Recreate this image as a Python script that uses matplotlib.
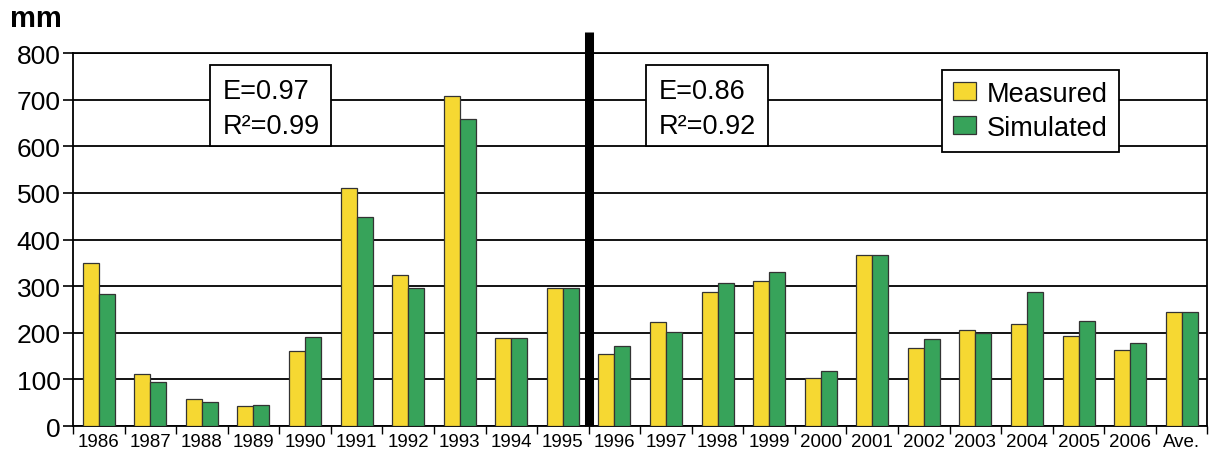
import numpy as np
import matplotlib.pyplot as plt
from matplotlib.patches import Rectangle

plt.rcParams['font.family'] = ['Liberation Sans', 'DejaVu Sans']

# data
years = ['1986', '1987', '1988', '1989', '1990', '1991', '1992', '1993', '1994', '1995',
         '1996', '1997', '1998', '1999', '2000', '2001', '2002', '2003', '2004', '2005',
         '2006', 'Ave.']
measured = [349, 111, 59, 42, 161, 511, 323, 707, 189, 297,
            154, 223, 288, 311, 102, 366, 167, 206, 219, 193, 164, 245]
simulated = [284, 95, 52, 46, 190, 449, 295, 659, 189, 297,
             172, 202, 306, 330, 118, 366, 186, 200, 288, 226, 177, 245]
stats_left = ['E=0.97', 'R²=0.99']
stats_right = ['E=0.86', 'R²=0.92']

yellow = '#F6D832'
green = '#37A35A'

fig = plt.figure(figsize=(12.1, 4.6), dpi=100)
ax = fig.add_axes([0.0603, 0.0717, 0.9376, 0.8109])

x = np.arange(len(years))
w = 0.31
ax.bar(x - w / 2, measured, w, color=yellow, edgecolor='#333333', linewidth=0.9,
       label='Measured', zorder=3)
ax.bar(x + w / 2, simulated, w, color=green, edgecolor='#333333', linewidth=0.9,
       label='Simulated', zorder=3)

ax.set_xlim(-0.5, len(years) - 0.5)
ax.set_ylim(0, 800)
ax.set_yticks(np.arange(0, 801, 100))
ax.tick_params(axis='y', labelsize=19, length=7, width=1.2, pad=2)
ax.grid(axis='y', color='black', linewidth=1.3, zorder=1)
ax.set_axisbelow(True)

# year labels centred, ticks on the boundaries
ax.set_xticks(x)
ax.set_xticklabels(years, fontsize=13.5)
ax.tick_params(axis='x', length=0, pad=5)
ax.set_xticks(np.arange(-0.5, len(years)), minor=True)
ax.tick_params(axis='x', which='minor', length=6, width=1, direction='out')

for s in ax.spines.values():
    s.set_linewidth(1.3)

# split between calibration and validation
ax.plot([9.5, 9.5], [0, 845], color='black', linewidth=6.5, clip_on=False,
        solid_capstyle='butt', zorder=4)

# stats boxes
for x0, x1, lines in [(2.155, 4.5, stats_left), (10.62, 12.98, stats_right)]:
    ax.add_patch(Rectangle((x0, 601), x1 - x0, 174, facecolor='white',
                           edgecolor='black', linewidth=1.3, zorder=5))
    ax.text(x0 + 0.24, 718, lines[0], fontsize=19.5, va='center', zorder=6)
    ax.text(x0 + 0.24, 643, lines[1], fontsize=19.5, va='center', zorder=6)

leg = ax.legend(loc='upper left', bbox_to_anchor=(0.766, 0.955), fontsize=19.5,
                frameon=True, fancybox=False, edgecolor='black', framealpha=1,
                handlelength=0.85, handleheight=0.65, handletextpad=0.4,
                labelspacing=0.3, borderpad=0.4, borderaxespad=0)
leg.get_frame().set_linewidth(1.3)
leg.set_zorder(6)

fig.text(0.008, 0.958, 'mm', fontsize=21, fontweight='bold', va='center')

fig.savefig('out.png', dpi=100)
